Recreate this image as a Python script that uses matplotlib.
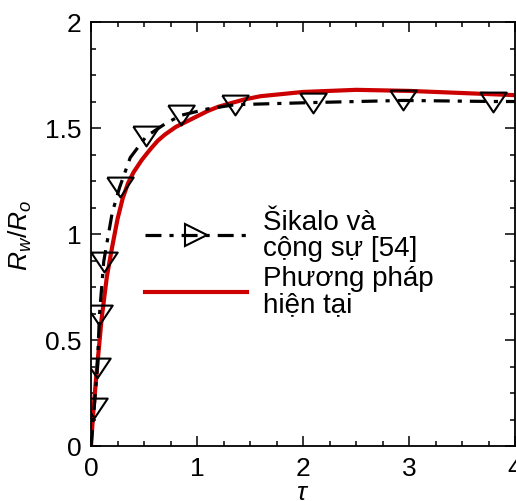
import numpy as np
import matplotlib
matplotlib.use("Agg")
import matplotlib.pyplot as plt
from matplotlib.lines import Line2D
from matplotlib.ticker import MultipleLocator

plt.rcParams['font.family'] = ['Liberation Sans', 'DejaVu Sans']
plt.rcParams['mathtext.fontset'] = 'custom'
plt.rcParams['mathtext.it'] = 'Liberation Sans:italic'
plt.rcParams['mathtext.rm'] = 'Liberation Sans'

# Šikalo và cộng sự [54] (đường gạch chấm + điểm đánh dấu)
tau_ref = [0.0, 0.03, 0.06, 0.08, 0.12, 0.2, 0.27, 0.37, 0.52, 0.7, 0.85, 1.1, 1.36, 2.09, 2.94, 3.79, 4.0]
rw_ref = [0.0, 0.18, 0.37, 0.62, 0.87, 1.10, 1.22, 1.36, 1.46, 1.52, 1.56, 1.59, 1.61, 1.62, 1.63, 1.625, 1.625]
ref_marks = [1, 2, 3, 4, 6, 8, 10, 12, 13, 14, 15]

# Phương pháp hiện tại
tau_cur = [0.0, 0.02, 0.05, 0.1, 0.15, 0.2, 0.25, 0.3, 0.35, 0.4, 0.48, 0.56, 0.63, 0.7, 0.8,
           0.9, 1.0, 1.1, 1.2, 1.34, 1.45, 1.6, 1.8, 2.0, 2.25, 2.5, 3.0, 3.5, 4.0]
rw_cur = [0.0, 0.15, 0.33, 0.6, 0.8, 0.94, 1.07, 1.17, 1.24, 1.29, 1.35, 1.40, 1.44, 1.47, 1.505,
          1.53, 1.555, 1.58, 1.60, 1.62, 1.635, 1.65, 1.66, 1.67, 1.675, 1.68, 1.675, 1.665, 1.655]

x_ticks = [0, 1, 2, 3, 4]
y_ticks = [0, 0.5, 1, 1.5, 2]
y_ticklabels = ['0', '0.5', '1', '1.5', '2']
labels = ['Šikalo và\ncộng sự [54]', 'Phương pháp\nhiện tại']

fig = plt.figure(figsize=(5.16, 5.02), dpi=100)
ax = fig.add_axes([91/516, 55/502, 424/516, 424/502])

# tam giác úp, rộng hơn cao
tri_down = [(-1, 0.75), (1, 0.75), (0, -0.75), (-1, 0.75)]
dashdot = (0, (5, 2.5, 1.3, 2.5))

ax.plot(tau_ref, rw_ref, color='black', lw=2.3, linestyle=dashdot,
        marker=tri_down, markevery=ref_marks, ms=19, mfc='none', mec='black', mew=1.5,
        zorder=3)
ax.plot(tau_cur, rw_cur, color='#cc0000', lw=3.0, zorder=2)

ax.set_xlim(0, 4)
ax.set_ylim(0, 2)
ax.set_xticks(x_ticks)
ax.set_xticklabels([str(v) for v in x_ticks])
ax.set_yticks(y_ticks)
ax.set_yticklabels(y_ticklabels)
ax.xaxis.set_minor_locator(MultipleLocator(0.25))
ax.yaxis.set_minor_locator(MultipleLocator(0.125))
ax.tick_params(which='both', direction='in', top=True, right=True, width=1.1, labelsize=19)
ax.tick_params(which='major', length=7, pad=7)
ax.tick_params(which='minor', length=3.6)
for s in ax.spines.values():
    s.set_linewidth(1.3)

ax.set_xlabel(r'$\tau$', fontsize=19, labelpad=0)
ax.set_ylabel(r'$R_w/R_o$', fontsize=19, labelpad=8)

handles = [Line2D([], [], color='black', lw=2.3, linestyle=dashdot, marker='>',
                  ms=16, mfc='none', mec='black', mew=1.5),
           Line2D([], [], color='#cc0000', lw=3.0)]
leg = ax.legend(handles, labels, loc='upper left', bbox_to_anchor=(0.1, 0.585),
                frameon=False, fontsize=20, handlelength=3.7, handletextpad=0.55,
                labelspacing=0.15, borderaxespad=0)
for t in leg.get_texts():
    t.set_linespacing(1.0)

fig.savefig('out.png', dpi=100)
